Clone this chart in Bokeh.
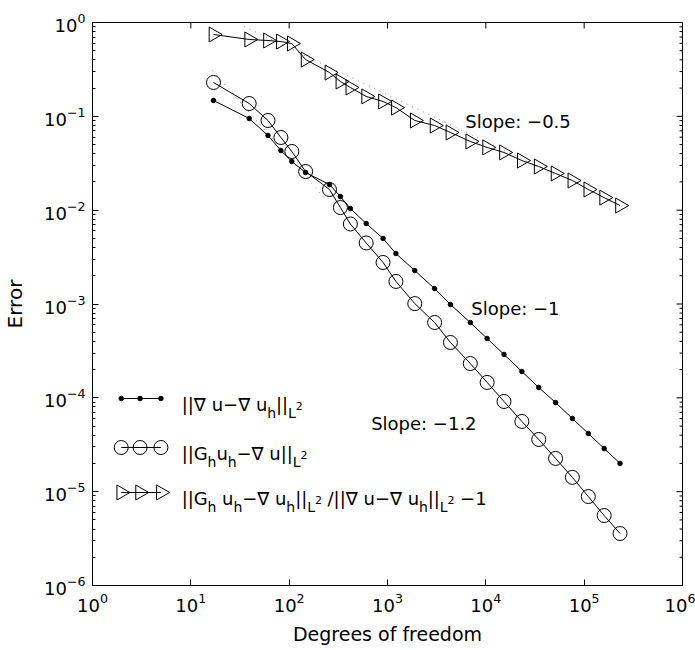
import math
from bokeh.plotting import figure
from bokeh.models import FixedTicker, Range1d, LinearScale, Label
from bokeh.embed import file_html
from bokeh.resources import INLINE

# ---------------- data ----------------
dof = [17.0, 39.2, 60.9, 82.4, 106.4, 147, 257, 332, 419, 607, 901, 1218,
       1894, 3013, 4367, 6950, 10310, 15300, 23240, 34500, 51200, 75900,
       110200, 159700, 231600]

err_grad = [0.1475, 0.0948, 0.0625, 0.0432, 0.0330, 0.0252, 0.01876, 0.01396,
            0.01042, 0.00721, 0.00499, 0.00345, 0.00227, 0.00146, 0.000988,
            0.000635, 0.000429, 0.000290, 0.000191, 0.000129, 8.91e-5,
            6.02e-5, 4.17e-5, 2.88e-5, 2.00e-5]

err_recovered = [0.2295, 0.137, 0.0903, 0.0595, 0.0422, 0.0258, 0.0166, 0.01067,
                 0.00712, 0.00447, 0.00277, 0.00174, 0.00101, 0.000635,
                 0.000389, 0.000232, 0.000146, 9.14e-5, 5.60e-5, 3.60e-5,
                 2.26e-5, 1.42e-5, 8.87e-6, 5.57e-6, 3.58e-6]

err_ratio = [0.745, 0.659, 0.643, 0.627, 0.597, 0.403, 0.293, 0.235, 0.203,
             0.163, 0.144, 0.124, 0.0903, 0.0798, 0.0673, 0.0540, 0.0466,
             0.0412, 0.0338, 0.0292, 0.0246, 0.0207, 0.0166, 0.0136, 0.0112]

# dotted slope guide lines (end points)
guide_half_x = [34.9, 58900]
guide_half_y = [0.906, 0.0221]
guide_12_x = [16.6, 240]
guide_12_y = [0.308, 0.0127]

x_ticks = [10.0 ** e for e in range(0, 7)]
y_ticks = [10.0 ** e for e in range(-6, 1)]
y_minor = [k * 10.0 ** e for e in range(-6, 0) for k in range(2, 10)]

slope_texts = ["Slope: \u22120.5", "Slope: \u22121", "Slope: \u22121.2"]
x_title = "Degrees of freedom"
y_title = "Error"

FONT = "DejaVu Sans"

# ---------------- layout ----------------
W, H = 695, 650
FL, FT, FW, FH = 87, 22, 595, 563

p = figure(width=W, height=H, x_axis_type="log", y_axis_type="log",
           x_range=Range1d(1, 1e6), y_range=Range1d(1e-6, 1),
           output_backend="svg", toolbar_location=None,
           min_border_left=FL, min_border_top=FT,
           min_border_right=W - FL - FW, min_border_bottom=H - FT - FH,
           background_fill_color="white", border_fill_color="white",
           outline_line_color="black", outline_line_width=1)
p.grid.visible = False

# page-pixel helper ranges for annotations / legend / box ticks
p.extra_x_ranges = {"px": Range1d(FL, FL + FW)}
p.extra_y_ranges = {"px": Range1d(FT + FH, FT)}
p.extra_x_scales = {"px": LinearScale()}
p.extra_y_scales = {"px": LinearScale()}

p.xaxis.ticker = FixedTicker(ticks=x_ticks, minor_ticks=[])
p.yaxis.ticker = FixedTicker(ticks=y_ticks, minor_ticks=y_minor)
for ax in list(p.xaxis) + list(p.yaxis):
    ax.axis_line_color = "black"
    ax.axis_line_width = 1
    ax.major_tick_in = 6
    ax.major_tick_out = 0
    ax.minor_tick_in = 3
    ax.minor_tick_out = 0
    ax.major_tick_line_color = "black"
    ax.minor_tick_line_color = "black"
    ax.major_label_text_font = FONT
    ax.major_label_text_font_size = "18px"
    ax.major_label_text_color = "black"
    ax.major_label_standoff = 7
    ax.axis_label_text_font = FONT
    ax.axis_label_text_font_style = "normal"
    ax.axis_label_text_color = "black"

p.xaxis.axis_label = x_title
p.xaxis.axis_label_text_font_size = "19px"
p.xaxis.axis_label_standoff = 8
p.yaxis.axis_label = y_title
p.yaxis.axis_label_text_font_size = "20px"
p.yaxis.axis_label_standoff = 14

# inner ticks on the right and top edges of the box
R = FL + FW
p.segment(x0=[R - 6] * len(y_ticks), y0=y_ticks, x1=[R] * len(y_ticks), y1=y_ticks,
          line_color="black", line_width=1, x_range_name="px")
p.segment(x0=[R - 3] * len(y_minor), y0=y_minor, x1=[R] * len(y_minor), y1=y_minor,
          line_color="black", line_width=1, x_range_name="px")
p.segment(x0=x_ticks, y0=[FT] * len(x_ticks), x1=x_ticks, y1=[FT + 6] * len(x_ticks),
          line_color="black", line_width=1, y_range_name="px")

# ---------------- glyphs ----------------
p.line(guide_half_x, guide_half_y, line_color="#8a8a8a", line_width=1, line_dash="1 5")
p.line(guide_12_x, guide_12_y, line_color="#8a8a8a", line_width=1, line_dash="1 5")

p.line(dof, err_grad, line_color="black", line_width=1)
p.scatter(dof, err_grad, marker="circle", size=4.5, fill_color="black", line_color="black")

p.line(dof, err_recovered, line_color="black", line_width=1)
p.scatter(dof, err_recovered, marker="circle", size=14, fill_color=None,
          line_color="black", line_width=1)

p.line(dof, err_ratio, line_color="black", line_width=1)
p.scatter(dof, err_ratio, marker="triangle", angle=-math.pi / 2, size=15,
          fill_color=None, line_color="black", line_width=1)

# ---------------- legend (manual, Matlab style) ----------------
rows_y = [398, 447, 492]
sample_x = [116, 135, 156]
markers = [("circle", 4.5, "black"), ("circle", 14, None), ("triangle", 15, None)]
for ry, (mk, sz, fc) in zip(rows_y, markers):
    p.line([sample_x[0], sample_x[-1]], [ry, ry], line_color="black", line_width=1,
           x_range_name="px", y_range_name="px")
    kw = dict(angle=-math.pi / 2) if mk == "triangle" else {}
    p.scatter(sample_x, [ry] * 3, marker=mk, size=sz, fill_color=fc,
              line_color="black", line_width=1, x_range_name="px", y_range_name="px", **kw)

DVW = {'|': 0.337, '\u2207': 0.684, ' ': 0.318, 'u': 0.634, '\u2212': 0.838, 'h': 0.634,
       'G': 0.775, 'L': 0.557, '2': 0.636, '/': 0.337, '1': 0.636}
SIZES = {"m": 18, "s": 14, "p": 11}
OFFS = {"m": 0, "s": 9, "p": 2}

legend_rows = [
    [("||\u2207 u\u2212\u2207 u", "m"), ("h", "s"), ("||", "m"), ("L", "s"), ("2", "p")],
    [("||G", "m"), ("h", "s"), ("u", "m"), ("h", "s"), ("\u2212\u2207 u||", "m"),
     ("L", "s"), ("2", "p")],
    [("||G", "m"), ("h", "s"), (" u", "m"), ("h", "s"), ("\u2212\u2207 u", "m"), ("h", "s"),
     ("||", "m"), ("L", "s"), ("2", "p"), (" /||\u2207 u\u2212\u2207 u", "m"), ("h", "s"),
     ("||", "m"), ("L", "s"), ("2", "p"), (" \u22121", "m")],
]
for ry, pieces in zip(rows_y, legend_rows):
    x = 177.0
    base = ry + 5.5
    for txt, kind in pieces:
        fs = SIZES[kind]
        stripped = txt.lstrip(" ")
        x += (len(txt) - len(stripped)) * DVW[" "] * fs   # leading blanks would collapse in SVG
        p.add_layout(Label(x=x, y=base + OFFS[kind], text=stripped, x_range_name="px",
                           y_range_name="px", text_font=FONT,
                           text_font_size=f"{fs}px", text_color="black",
                           text_align="left", text_baseline="alphabetic"))
        x += sum(DVW.get(c, 0.6) for c in stripped) * fs

# slope annotations
for txt, (lx, ly) in zip(slope_texts, [(463, 121), (469, 308), (368, 423)]):
    p.add_layout(Label(x=lx, y=ly, text=txt, x_range_name="px", y_range_name="px",
                       text_font=FONT, text_font_size="18px", text_color="black",
                       text_align="left", text_baseline="alphabetic"))

open("out.html", "w").write(file_html(p, INLINE))
